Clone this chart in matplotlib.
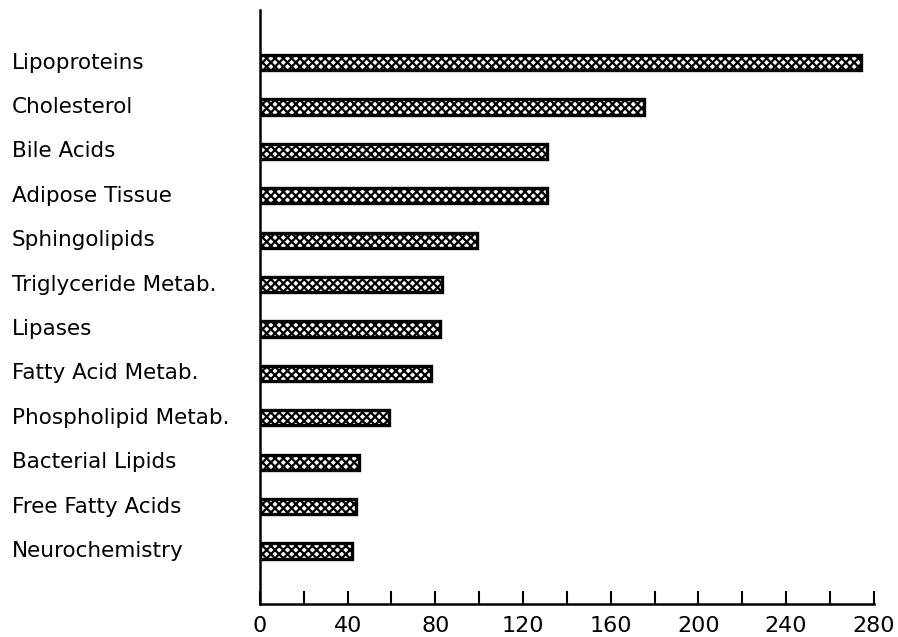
import matplotlib
matplotlib.use("Agg")
import matplotlib.pyplot as plt
from matplotlib.ticker import MultipleLocator

categories = ["Lipoproteins", "Cholesterol", "Bile Acids", "Adipose Tissue",
              "Sphingolipids", "Triglyceride Metab.", "Lipases",
              "Fatty Acid Metab.", "Phospholipid Metab.", "Bacterial Lipids",
              "Free Fatty Acids", "Neurochemistry"]
values = [274, 175, 131, 131, 99, 83, 82, 78, 59, 45, 44, 42]
xticks = [0, 40, 80, 120, 160, 200, 240, 280]

plt.rcParams["font.family"] = ["DejaVu Sans"]
plt.rcParams["hatch.linewidth"] = 1.6

fig = plt.figure(figsize=(8.98, 6.37), dpi=100)
# axes box in figure fractions
ax = fig.add_axes([0.2895, 0.052, 0.6835, 0.932])

ypos = list(range(len(categories)))[::-1]
ax.barh(ypos, values, height=0.34, color="white", edgecolor="black",
        linewidth=2.4, hatch="xxxx", zorder=3)

ax.set_xlim(0, 280)
ax.set_ylim(-1.19, len(categories) - 1 + 1.18)
ax.set_xticks(xticks)
ax.set_xticklabels([str(t) for t in xticks], fontsize=16)
ax.xaxis.set_minor_locator(MultipleLocator(20))
ax.tick_params(axis="x", which="both", direction="in", length=9.5, width=1.5, pad=9)
ax.set_yticks([])

# category names, left aligned near the figure edge
for y, name in zip(ypos, categories):
    ax.text(-0.404, y, name, transform=ax.get_yaxis_transform(),
            ha="left", va="center", fontsize=15.5)

for s in ["top", "right"]:
    ax.spines[s].set_visible(False)
ax.spines["left"].set_linewidth(1.8)
ax.spines["bottom"].set_linewidth(1.8)

fig.savefig("out.png", dpi=100)
